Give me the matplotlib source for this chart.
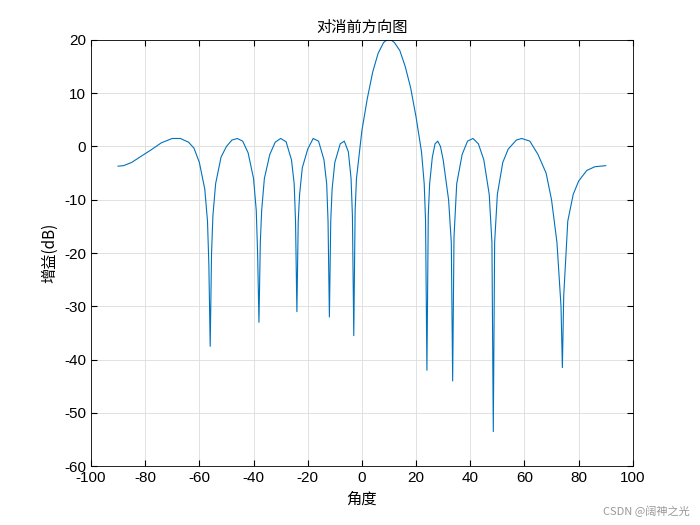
import matplotlib
matplotlib.use("Agg")
import matplotlib.pyplot as plt

# angle (deg) and gain (dB)
angle = [-90, -88, -85, -82, -78, -74, -70, -67, -64, -62, -60, -58, -57, -56.5, -56, -55.5, -55, -54,
         -52, -50, -48, -46, -44, -42, -40, -39, -38.5, -38, -37.5, -37, -36, -34, -32, -30, -28, -26,
         -25, -24.5, -24, -23.5, -23, -22, -20, -18, -16, -14, -13, -12.5, -12, -11.5, -11, -10, -8,
         -6.5, -5, -4, -3.5, -3, -2.5, -2, -1, 0, 2, 4, 6, 8, 9, 10, 11, 12, 14, 16, 18, 20, 22, 23, 23.5, 24,
         24.5, 25, 26, 27, 28, 29, 30, 32, 33, 33.5, 34, 35, 37, 39, 41, 43, 45, 47, 48, 48.5, 49, 50,
         52, 54, 57, 59, 62, 65, 68, 70, 72, 73.5, 74, 74.5, 76, 78, 80, 83, 86, 90]
gain = [-3.7, -3.6, -3.0, -2.0, -0.7, 0.7, 1.5, 1.5, 0.8, -0.3, -3.0, -8, -14, -22, -37.5, -20, -13, -7,
        -2, 0, 1.2, 1.5, 1.0, -1.2, -6, -12, -20, -33, -18, -12, -6, -1.5, 0.8, 1.5, 0.9, -2.5,
        -7, -14, -31, -14, -9, -4, -0.5, 1.5, 1.0, -2.5, -7, -14, -32, -14, -8, -3, 0.5,
        1.0, -1, -6, -13, -35.5, -12, -6, -1.5, 3, 9, 14, 17.5, 19.5, 19.9, 20, 19.9, 19.5, 18, 15, 11, 5.5, -1, -7, -14, -42,
        -13, -7, -2, 0.5, 1.0, 0, -2.5, -10, -18, -44, -17, -7, -1.5, 1, 1.5, 0.5, -2.5, -9, -18, -53.5, -18, -9,
        -3, -0.5, 1.2, 1.5, 1, -1.5, -5, -10, -18, -30, -41.5, -28, -14, -9, -6.5, -4.5, -3.8, -3.6]

cjk = ["Noto Sans CJK SC", "DejaVu Sans"]
plt.rcParams["font.family"] = ["Liberation Sans", "DejaVu Sans"]
plt.rcParams["axes.unicode_minus"] = False

fig = plt.figure(figsize=(7, 5.25), dpi=100)
ax = fig.add_axes([0.13, 0.112, 0.774, 0.812])
ax.plot(angle, gain, color="#0072BD", lw=0.8)
ax.set_xlim(-100, 100)
ax.set_ylim(-60, 20)
ax.set_xticks(range(-100, 101, 20))
ax.set_yticks(range(-60, 21, 10))
ax.grid(True, color="#dcdcdc", lw=0.6)
ax.tick_params(direction="in", labelsize=11, top=True, right=True, length=4)
for s in ax.spines.values():
    s.set_linewidth(0.6)
ax.set_title("对消前方向图", family=cjk, fontsize=11)
ax.set_xlabel("角度", family=cjk, fontsize=11)
ax.set_ylabel("增益(dB)", family=cjk, fontsize=11)
fig.text(0.985, 0.015, "CSDN @阔神之光", family=cjk, fontsize=8, color="#999999", ha="right", va="bottom")
fig.savefig("out.png", dpi=100)
